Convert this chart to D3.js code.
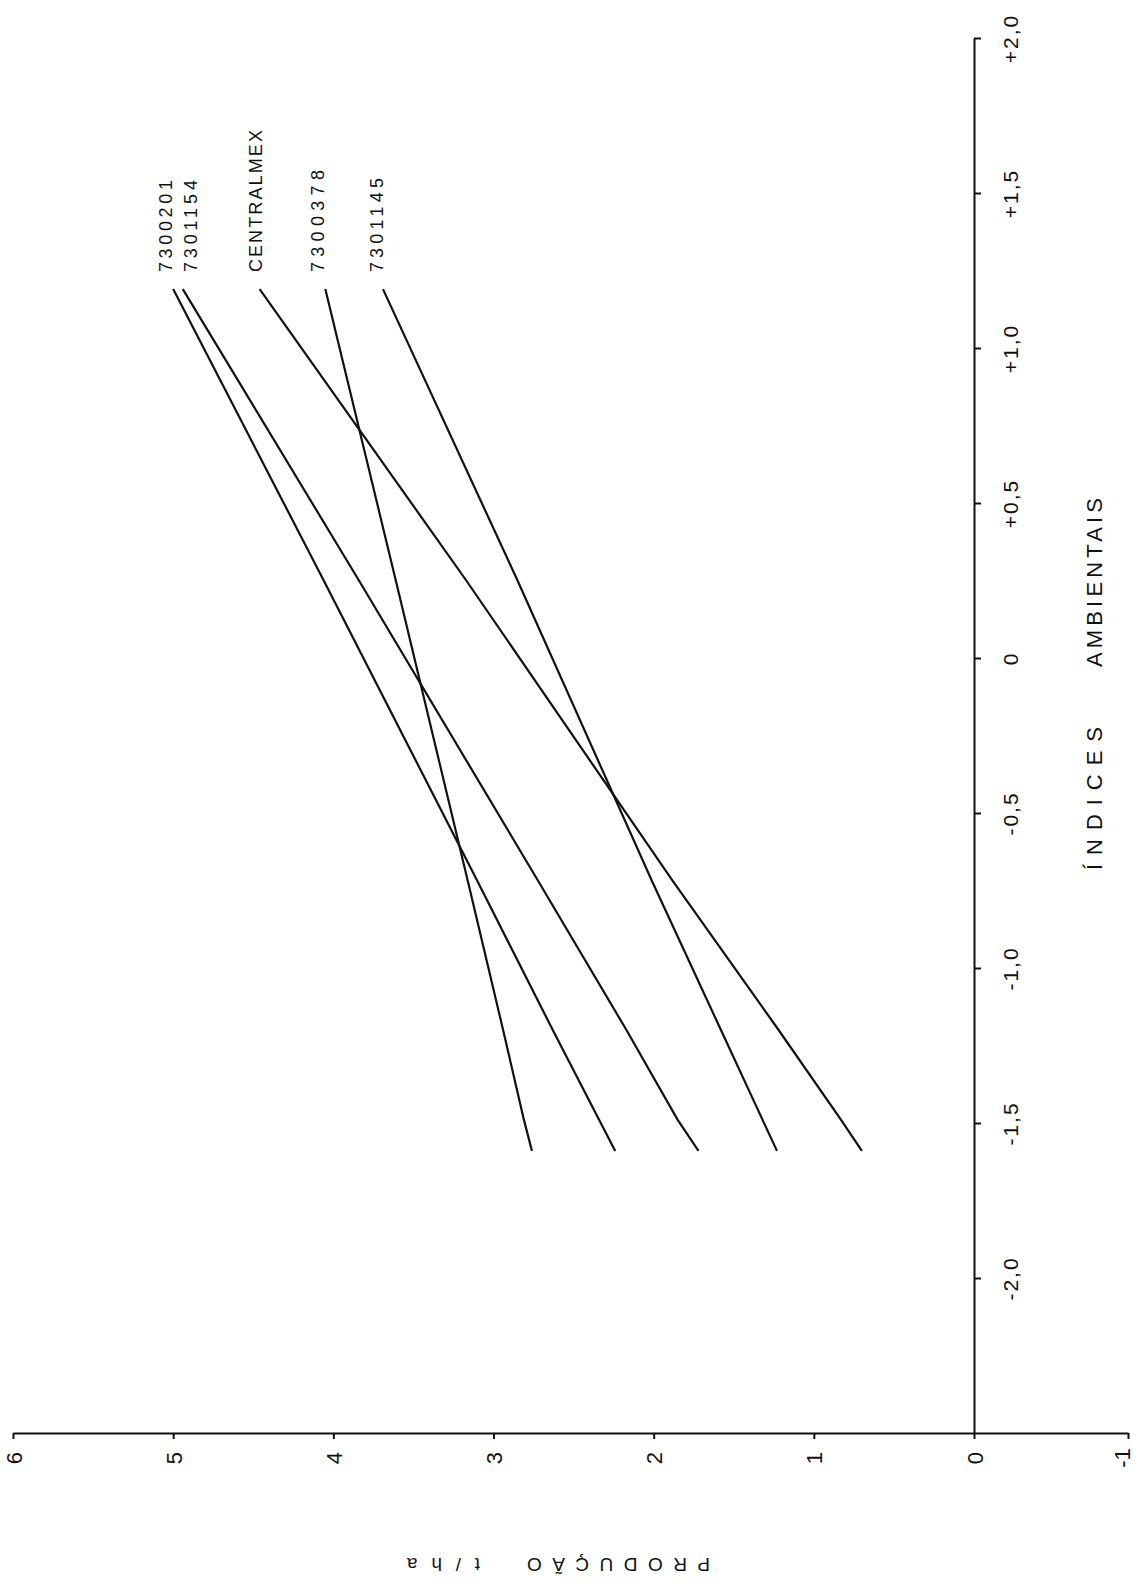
<!DOCTYPE html>
<html><head><meta charset="utf-8">
<script src="https://cdn.jsdelivr.net/npm/d3@7"></script>
<style>body{margin:0;background:#fff}svg{display:block}</style>
</head><body>
<svg id="chart" width="1138" height="1591"></svg>
<script>
// ---- data ----
const indices      = [-1.59, -1.49, -1.2, -0.72, 0.25, 1.19];
const s7300201     = [2.24, 2.34, 2.63, 3.10, 4.06, 5.00];
const s7301154     = [1.72, 1.85, 2.17, 2.72, 3.84, 4.94];
const sCentralmex  = [0.70, 0.83, 1.22, 1.88, 3.17, 4.46];
const s7300378     = [2.76, 2.81, 2.94, 3.16, 3.61, 4.05];
const s7301145     = [1.23, 1.32, 1.58, 2.01, 2.85, 3.69];
const seriesNames  = ["7300201", "7301154", "CENTRALMEX", "7300378", "7301145"];
const seriesValues = [s7300201, s7301154, sCentralmex, s7300378, s7301145];
const indexTicks      = [-2.0, -1.5, -1.0, -0.5, 0, 0.5, 1.0, 1.5, 2.0];
const indexTickLabels = ["-2,0", "-1,5", "-1,0", "-0,5", "0", "+0,5", "+1,0", "+1,5", "+2,0"];
const prodTicks       = [-1, 0, 1, 2, 3, 4, 5, 6];
const prodTickLabels  = ["-1", "0", "1", "2", "3", "4", "5", "6"];
const indexTitleWords = ["ÍNDICES", "AMBIENTAIS"];
const prodTitleWords  = ["PRODUÇÃO", "t/ha"];

// ---- layout / style ----
const FONT = "'Liberation Sans', Arial, sans-serif";
const INK = "#111";
const labelDx  = [-1, 14, 2, -1, 0];          // label baseline offsets from line ends
const labelLen = [92, 92, 142, 102, 94];      // label text lengths

const svg = d3.select("#chart");
// production (t/ha) runs right-to-left, environmental index runs bottom-to-top
const x = d3.scaleLinear().domain([-1, 0, 6]).range([1128, 974, 13]);
const y = d3.scaleLinear().domain([-2.5, 2.0]).range([1433, 38]);

// ---- index axis (vertical) ----
const yAxis = d3.axisRight(y)
  .tickValues(indexTicks)
  .tickFormat((d, i) => indexTickLabels[i])
  .tickSize(7).tickSizeOuter(0);
const gy = svg.append("g").attr("transform", `translate(${x(0)},0)`).call(yAxis);
gy.select(".domain").attr("stroke", INK).attr("stroke-width", 2);
gy.selectAll(".tick line").attr("stroke", INK).attr("stroke-width", 2);
gy.selectAll(".tick text")
  .attr("x", null).attr("dy", null)
  .attr("transform", "translate(44,0) rotate(-90)")
  .attr("text-anchor", "middle")
  .attr("fill", INK)
  .style("font-family", FONT).style("font-size", "21px").style("letter-spacing", "2px");

// ---- production axis (horizontal) ----
const xAxis = d3.axisBottom(x)
  .tickValues(prodTicks)
  .tickFormat((d, i) => prodTickLabels[i])
  .tickSize(6).tickSizeOuter(0);
const gx = svg.append("g").attr("transform", `translate(0,${y(-2.5)})`).call(xAxis);
gx.select(".domain").attr("stroke", INK).attr("stroke-width", 2);
gx.selectAll(".tick line").attr("stroke", INK).attr("stroke-width", 2);
gx.selectAll(".tick text")
  .attr("y", null).attr("dy", null)
  .attr("transform", d => `translate(${d === -1 ? 1 : 8},25) rotate(-90)`)
  .attr("text-anchor", "middle")
  .attr("fill", INK)
  .style("font-family", FONT).style("font-size", "22px");

// ---- series lines ----
const line = d3.line().x(d => x(d.p)).y(d => y(d.i));
seriesValues.forEach((vals, k) => {
  const pts = vals.map((p, j) => ({ p, i: indices[j] }));
  svg.append("path")
    .attr("d", line(pts))
    .attr("fill", "none")
    .attr("stroke", INK)
    .attr("stroke-width", 2.2)
    .attr("stroke-linejoin", "round");
  const end = pts[pts.length - 1];
  svg.append("text")
    .attr("transform", `translate(${x(end.p) + labelDx[k]},${y(end.i) - 17}) rotate(-90)`)
    .attr("text-anchor", "start")
    .attr("textLength", labelLen[k])
    .attr("lengthAdjust", "spacing")
    .attr("fill", INK)
    .style("font-family", FONT).style("font-size", "18px")
    .text(seriesNames[k]);
});

// ---- axis titles ----
const idxTitlePos = [{ y0: 870, len: 143 }, { y0: 667, len: 169 }];
indexTitleWords.forEach((w, k) => {
  svg.append("text")
    .attr("transform", `translate(1102,${idxTitlePos[k].y0}) rotate(-90)`)
    .attr("textLength", idxTitlePos[k].len).attr("lengthAdjust", "spacing")
    .attr("fill", INK)
    .style("font-family", FONT).style("font-size", "22px")
    .text(w);
});
const prodTitlePos = [{ x0: 710, len: 183 }, { x0: 480, len: 73 }];
prodTitleWords.forEach((w, k) => {
  svg.append("text")
    .attr("transform", `translate(${prodTitlePos[k].x0},1558) rotate(180)`)
    .attr("textLength", prodTitlePos[k].len).attr("lengthAdjust", "spacing")
    .attr("fill", INK)
    .style("font-family", FONT).style("font-size", "19px")
    .text(w);
});
</script>
</body></html>
